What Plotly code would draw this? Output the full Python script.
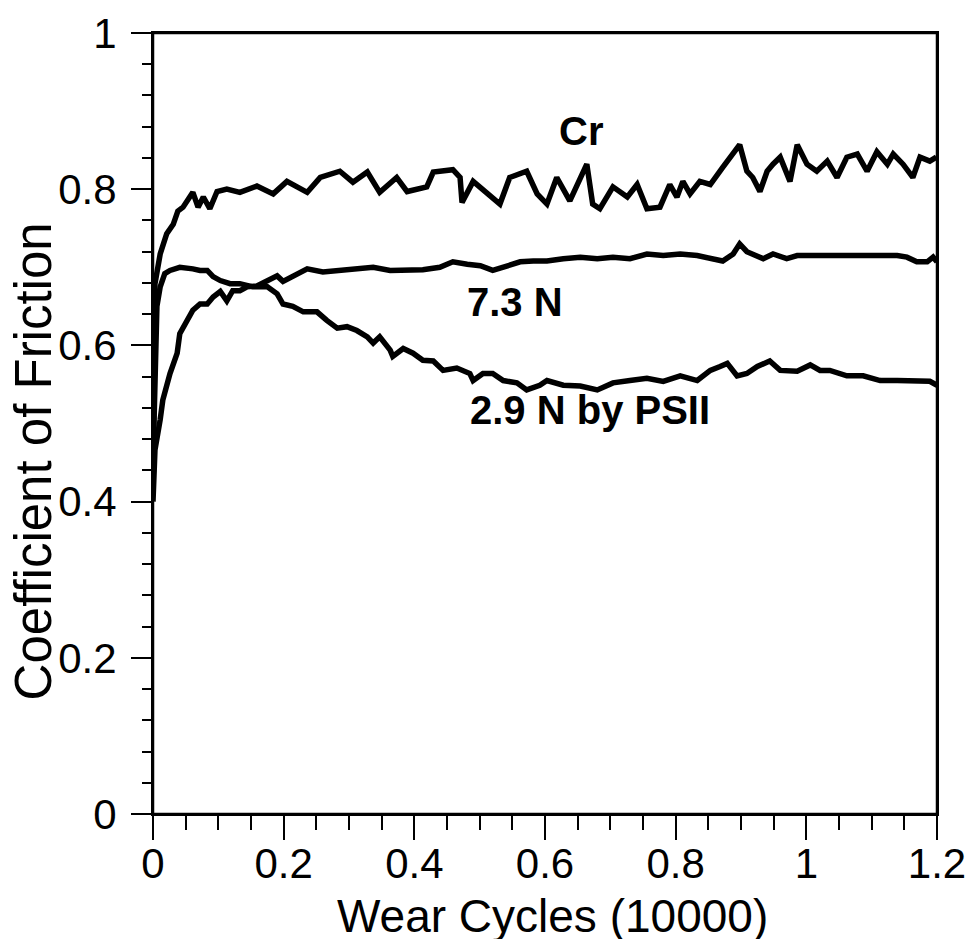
import plotly.graph_objects as go

# Cr
cr_x = [0.000, 0.0015, 0.003, 0.011, 0.021, 0.031, 0.038, 0.046, 0.061, 0.069, 0.077, 0.087, 0.098,
        0.113, 0.133, 0.159, 0.184, 0.205, 0.236, 0.256, 0.286, 0.306, 0.328, 0.347, 0.373, 0.389,
        0.419, 0.429, 0.459, 0.470, 0.473, 0.490, 0.511, 0.531, 0.546, 0.572, 0.588, 0.603, 0.618,
        0.638, 0.664, 0.673, 0.684, 0.704, 0.726, 0.741, 0.756, 0.776, 0.791, 0.802, 0.811, 0.822,
        0.837, 0.853, 0.872, 0.888, 0.898, 0.909, 0.918, 0.929, 0.940, 0.949, 0.960, 0.975, 0.986,
        1.001, 1.016, 1.032, 1.047, 1.062, 1.078, 1.093, 1.108, 1.124, 1.133, 1.148, 1.163, 1.174,
        1.189, 1.199]
cr_y = [0.420, 0.550, 0.679, 0.717, 0.743, 0.755, 0.772, 0.777, 0.796, 0.777, 0.790, 0.775, 0.797,
        0.800, 0.796, 0.804, 0.794, 0.810, 0.796, 0.815, 0.823, 0.809, 0.822, 0.796, 0.815, 0.797,
        0.803, 0.822, 0.825, 0.815, 0.783, 0.810, 0.794, 0.781, 0.815, 0.823, 0.794, 0.781, 0.815,
        0.785, 0.832, 0.781, 0.775, 0.803, 0.790, 0.806, 0.775, 0.777, 0.806, 0.790, 0.810, 0.794,
        0.810, 0.806, 0.828, 0.845, 0.857, 0.823, 0.815, 0.797, 0.823, 0.832, 0.841, 0.810, 0.857,
        0.832, 0.823, 0.836, 0.815, 0.841, 0.845, 0.823, 0.848, 0.832, 0.845, 0.832, 0.815, 0.841,
        0.836, 0.841]

# 7.3 N
n73_x = [0.000, 0.003, 0.011, 0.015, 0.026, 0.037, 0.041, 0.052, 0.061, 0.072, 0.083, 0.092, 0.103,
         0.113, 0.122, 0.133, 0.144, 0.159, 0.175, 0.190, 0.199, 0.214, 0.236, 0.260, 0.286, 0.312,
         0.337, 0.363, 0.389, 0.413, 0.439, 0.459, 0.481, 0.501, 0.520, 0.542, 0.562, 0.582, 0.603,
         0.628, 0.654, 0.680, 0.704, 0.730, 0.756, 0.781, 0.807, 0.833, 0.857, 0.872, 0.888, 0.898,
         0.909, 0.925, 0.934, 0.949, 0.970, 0.986, 1.036, 1.113, 1.139, 1.154, 1.169, 1.185, 1.194,
         1.200]
n73_y = [0.400, 0.466, 0.505, 0.530, 0.564, 0.590, 0.615, 0.632, 0.645, 0.653, 0.653, 0.662, 0.669,
         0.657, 0.670, 0.670, 0.675, 0.676, 0.683, 0.689, 0.682, 0.688, 0.698, 0.694, 0.696, 0.698,
         0.700, 0.696, 0.697, 0.697, 0.700, 0.707, 0.704, 0.702, 0.696, 0.702, 0.707, 0.708, 0.708,
         0.711, 0.713, 0.711, 0.713, 0.711, 0.717, 0.715, 0.717, 0.715, 0.711, 0.708, 0.717, 0.730,
         0.720, 0.715, 0.711, 0.717, 0.711, 0.715, 0.715, 0.715, 0.715, 0.713, 0.707, 0.707, 0.713,
         0.707]

# 2.9 N by PSII
n29_x = [0.000, 0.003, 0.006, 0.011, 0.018, 0.026, 0.041, 0.061, 0.072, 0.083, 0.092, 0.103, 0.118,
         0.133, 0.153, 0.175, 0.190, 0.199, 0.214, 0.230, 0.251, 0.266, 0.282, 0.297, 0.312, 0.328,
         0.337, 0.347, 0.363, 0.367, 0.383, 0.398, 0.413, 0.429, 0.444, 0.465, 0.485, 0.490, 0.505,
         0.520, 0.536, 0.557, 0.572, 0.592, 0.603, 0.628, 0.654, 0.680, 0.704, 0.730, 0.756, 0.781,
         0.807, 0.833, 0.853, 0.868, 0.879, 0.894, 0.909, 0.925, 0.944, 0.960, 0.986, 1.006, 1.021,
         1.036, 1.062, 1.087, 1.113, 1.139, 1.163, 1.189, 1.200]
n29_y = [0.450, 0.580, 0.650, 0.675, 0.692, 0.696, 0.700, 0.698, 0.696, 0.696, 0.688, 0.683, 0.679,
         0.679, 0.675, 0.675, 0.666, 0.653, 0.650, 0.643, 0.643, 0.632, 0.622, 0.624, 0.619, 0.611,
         0.603, 0.611, 0.594, 0.586, 0.596, 0.590, 0.581, 0.580, 0.568, 0.571, 0.564, 0.555, 0.564,
         0.564, 0.555, 0.552, 0.543, 0.549, 0.555, 0.549, 0.548, 0.543, 0.552, 0.555, 0.558, 0.554,
         0.561, 0.555, 0.568, 0.573, 0.577, 0.561, 0.564, 0.573, 0.580, 0.568, 0.567, 0.575, 0.568,
         0.568, 0.561, 0.561, 0.555, 0.555, 0.555, 0.554, 0.549]

labels = ["Cr", "7.3 N", "2.9 N by PSII"]
label_x = [0.655, 0.554, 0.669]
label_y = [0.874, 0.656, 0.517]

FONT = "Liberation Sans, Arial, sans-serif"

fig = go.Figure()
for xs, ys in [(cr_x, cr_y), (n73_x, n73_y), (n29_x, n29_y)]:
    fig.add_trace(go.Scatter(x=xs, y=ys, mode="lines", line=dict(color="black", width=5.5),
                             showlegend=False))

for text, lx, ly in zip(labels, label_x, label_y):
    fig.add_annotation(x=lx, y=ly, text="<b>%s</b>" % text, showarrow=False,
                       font=dict(size=40, color="black", family=FONT))

# axis titles as annotations so they sit where the original puts them
fig.add_annotation(x=0.51, y=-0.13, xref="paper", yref="paper", text="Wear Cycles (10000)",
                   xanchor="center", yanchor="middle", showarrow=False,
                   font=dict(size=46, color="black", family=FONT))
fig.add_annotation(x=-0.153, y=0.4515, xref="paper", yref="paper", text="Coefficient of Friction",
                   xanchor="center", yanchor="middle", textangle=-90, showarrow=False,
                   font=dict(size=51, color="black", family=FONT))

# box around the plot area
fig.add_shape(type="rect", xref="paper", yref="paper", x0=0, x1=1, y0=0, y1=1,
              line=dict(color="black", width=2.5), layer="above")

fig.update_xaxes(range=[0, 1.2], tick0=0, dtick=0.2, ticks="outside", ticklen=24, tickwidth=2,
                 tickcolor="black", showline=True, linewidth=2, linecolor="black", mirror=True,
                 showgrid=False, zeroline=False, automargin=False, ticklabelstandoff=-12,
                 ticklabeloverflow="allow", tickfont=dict(size=42, color="black", family=FONT),
                 minor=dict(dtick=0.05, tick0=0, ticks="outside", ticklen=14, tickwidth=2,
                            tickcolor="black", showgrid=False))
fig.update_yaxes(range=[0, 1], tick0=0, dtick=0.2, ticks="outside", ticklen=20, tickwidth=2,
                 tickcolor="black", showline=True, linewidth=2, linecolor="black", mirror=True,
                 showgrid=False, zeroline=False, automargin=False, ticklabelstandoff=6,
                 ticklabeloverflow="allow", tickfont=dict(size=42, color="black", family=FONT),
                 minor=dict(dtick=0.04, tick0=0, ticks="outside", ticklen=9, tickwidth=2,
                            tickcolor="black", showgrid=False))

# the page body adds an 8px border, so the figure is shrunk to fit the window;
# top margin nudged down a little so the top frame line shows
fig.update_layout(width=957, height=931, margin=dict(l=145, r=28, t=25, b=125),
                  plot_bgcolor="white", paper_bgcolor="white", font=dict(family=FONT))

fig.write_html("out.html", config={"displayModeBar": False, "staticPlot": True})
